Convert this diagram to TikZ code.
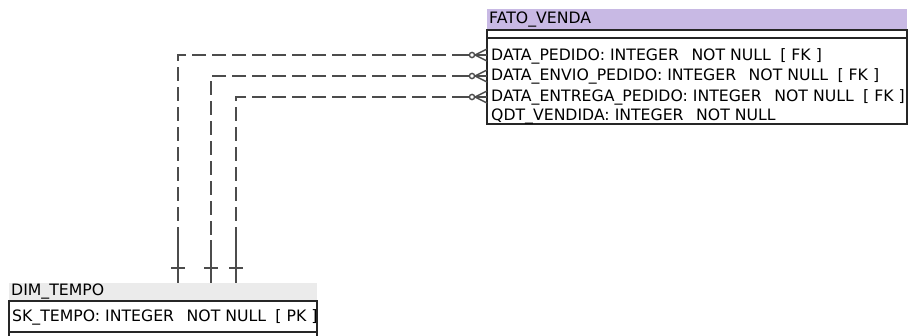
\documentclass[tikz,border=0pt]{standalone}
\usepackage{fontspec}
\setmainfont{DejaVu Sans}
\begin{document}
\begin{tikzpicture}[x=1pt,y=-1pt,
  txt/.style={anchor=west,inner sep=0pt,font=\fontsize{15.7}{17}\selectfont,text=black},
  ent/.style={draw=black!85,line width=1.1pt},
  rel/.style={draw=black!70,line width=1.4pt},
  reldash/.style={rel,dash pattern=on 14pt off 6pt}]
\useasboundingbox (0,0) rectangle (910,335);
% FATO_VENDA
\fill[fill={rgb,255:red,200;green,185;blue,228}] (487,9) rectangle (907,30);
\node[txt] (fvh) at (489,19.5) {FATO\_VENDA};
\draw[ent] (487,30) rectangle (907,124);
\draw[ent] (487,38) -- (907,38);
\node[txt] (r1) at (491,56) {DATA\_PEDIDO: INTEGER\hspace{0.8em}NOT NULL\hspace{0.6em}[ FK ]};
\node[txt] (r2) at (491,76.5) {DATA\_ENVIO\_PEDIDO: INTEGER\hspace{0.8em}NOT NULL\hspace{0.6em}[ FK ]};
\node[txt] (r3) at (491,97) {DATA\_ENTREGA\_PEDIDO: INTEGER\hspace{0.8em}NOT NULL\hspace{0.6em}[ FK ]};
\node[txt] (r4) at (491,117) {QDT\_VENDIDA: INTEGER\hspace{0.8em}NOT NULL};
% DIM_TEMPO
\fill[fill=black!8] (9,283) rectangle (317,301);
\node[txt] (dh) at (11,292) {DIM\_TEMPO};
\draw[ent] (9,340) -- (9,301) -- (317,301) -- (317,340);
\draw[ent] (9,332) -- (317,332);
\node[txt] (d1) at (12,317) {SK\_TEMPO: INTEGER\hspace{0.8em}NOT NULL\hspace{0.6em}[ PK ]};
% attachment points
\foreach \i/\y/\x in {1/55/178,2/76/211,3/97/236}{
  \coordinate (e\i) at (487,\y);
  \coordinate (s\i) at (466,\y);
  \coordinate (c\i) at (\x,\y);
  \coordinate (b\i) at (\x,240);
  \coordinate (t\i) at (\x,283);
  \draw[reldash] (s\i) -- (c\i) -- (b\i);
  \draw[rel] (b\i) -- (t\i);
  \draw[rel] ([xshift=-7]t\i |- 0,268) -- ([xshift=7]t\i |- 0,268);
  \draw[rel] (s\i) -- (e\i);
  \draw[rel,fill=white] (472,\y) circle (2.6);
  \draw[rel] (475,\y) -- (487,\y-6);
  \draw[rel] (475,\y) -- (487,\y+6);
}
\end{tikzpicture}
\end{document}
